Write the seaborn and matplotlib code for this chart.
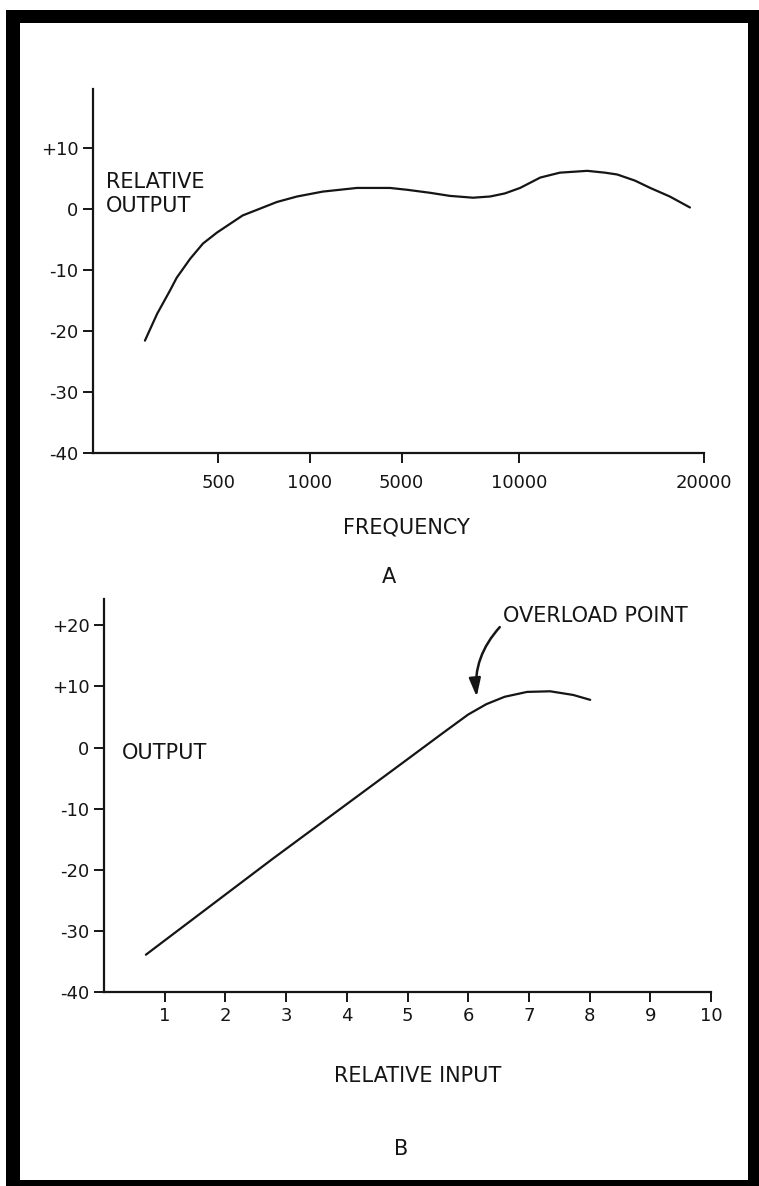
import matplotlib.pyplot as plt
import seaborn as sns
from matplotlib.patches import Rectangle

sns.set_style("ticks")
plt.rcParams['font.family'] = ['DejaVu Sans']

# --- chart A: relative output vs frequency (hand drawn, uneven axis) ---
freq_labels = ['500', '1000', '5000', '10000', '20000']
freq_tick_pos = [2.05, 3.55, 5.05, 6.97, 10.0]
freq_pos = [0.85, 1.05, 1.26, 1.37, 1.59, 1.80, 2.03, 2.24, 2.45, 2.68, 3.01,
            3.34, 3.76, 4.04, 4.32, 4.58, 4.86, 5.14, 5.52, 5.84, 6.22, 6.50,
            6.74, 6.99, 7.32, 7.64, 8.09, 8.38, 8.58, 8.87, 9.12, 9.44, 9.77]
rel_output = [-21.6, -17.2, -13.4, -11.3, -8.2, -5.7, -3.9, -2.5, -1.1, -0.2, 1.1,
              2.0, 2.8, 3.1, 3.4, 3.4, 3.4, 3.1, 2.6, 2.1, 1.8, 2.0,
              2.5, 3.4, 5.1, 5.9, 6.2, 5.9, 5.6, 4.6, 3.4, 2.0, 0.2]
a_yticks = [10, 0, -10, -20, -30, -40]
a_ylabels = ['+10', '0', '-10', '-20', '-30', '-40']

# --- chart B: output vs relative input ---
rel_input = [0.69, 2.78, 4.88, 5.6, 6.0, 6.3, 6.6, 6.97, 7.35, 7.73, 8.01]
output_b = [-33.9, -18.2, -2.8, 2.5, 5.4, 7.1, 8.3, 9.1, 9.2, 8.6, 7.8]
b_xticks = [1, 2, 3, 4, 5, 6, 7, 8, 9, 10]
b_yticks = [20, 10, 0, -10, -20, -30, -40]
b_ylabels = ['+20', '+10', '0', '-10', '-20', '-30', '-40']

W, H = 759, 1186
fig = plt.figure(figsize=(W / 100, H / 100), dpi=100)
ink = '#151515'


def px(x0, y_top, x1, y_bot):
    return [x0 / W, 1 - y_bot / H, (x1 - x0) / W, (y_bot - y_top) / H]


def style(ax):
    sns.despine(ax=ax)
    for s in ['left', 'bottom']:
        ax.spines[s].set_linewidth(1.6)
        ax.spines[s].set_color(ink)
    ax.tick_params(direction='out', length=7, width=1.4, color=ink,
                   labelsize=13, labelcolor=ink)
    ax.set_xlabel('')
    ax.set_ylabel('')


# chart A
ax1 = fig.add_axes(px(93, 89, 704, 453))
sns.lineplot(x=freq_pos, y=rel_output, ax=ax1, color=ink, linewidth=1.6,
             sort=False, estimator=None)
ax1.set_xlim(0, 10)
ax1.set_ylim(-40, 19.6)
ax1.set_xticks(freq_tick_pos, freq_labels)
ax1.set_yticks(a_yticks, a_ylabels)
style(ax1)
ax1.tick_params(axis='x', pad=8)
ax1.text(0.21, 3.44, 'RELATIVE', fontsize=15, color=ink, va='baseline')
ax1.text(0.21, -0.49, 'OUTPUT', fontsize=15, color=ink, va='baseline')

# chart B
ax2 = fig.add_axes(px(104, 599, 711, 992))
sns.lineplot(x=rel_input, y=output_b, ax=ax2, color=ink, linewidth=1.6,
             sort=False, estimator=None)
ax2.set_xlim(0, 10)
ax2.set_ylim(-40, 24.3)
ax2.set_xticks(b_xticks)
ax2.set_yticks(b_yticks, b_ylabels)
style(ax2)
ax2.tick_params(axis='x', pad=4)
ax2.text(0.30, -1.85, 'OUTPUT', fontsize=15, color=ink, va='baseline')
ax2.text(6.57, 20.5, 'OVERLOAD POINT', fontsize=15, color=ink, va='baseline')
ax2.annotate('', xy=(6.14, 8.3), xytext=(6.52, 19.7),
             arrowprops=dict(arrowstyle='-|>,head_length=1.1,head_width=0.35',
                             connectionstyle='arc3,rad=0.22', color=ink,
                             lw=1.8, shrinkA=0, shrinkB=0, mutation_scale=10))

# captions
fig.text(406 / W, 1 - 534 / H, 'FREQUENCY', fontsize=15, color=ink,
         ha='center', va='baseline')
fig.text(389 / W, 1 - 583 / H, 'A', fontsize=15, color=ink,
         ha='center', va='baseline')
fig.text(418 / W, 1 - 1082 / H, 'RELATIVE INPUT', fontsize=15, color=ink,
         ha='center', va='baseline')
fig.text(401 / W, 1 - 1155 / H, 'B', fontsize=15, color=ink,
         ha='center', va='baseline')

# thick black frame round the page
for r in [px(8, 10, W, 23), px(6, 10, 20, H), px(748, 10, W, H), px(6, 1180, W, H)]:
    fig.add_artist(Rectangle((r[0], r[1]), r[2], r[3], transform=fig.transFigure,
                             color='black', lw=0))

fig.savefig('out.png', dpi=100)
